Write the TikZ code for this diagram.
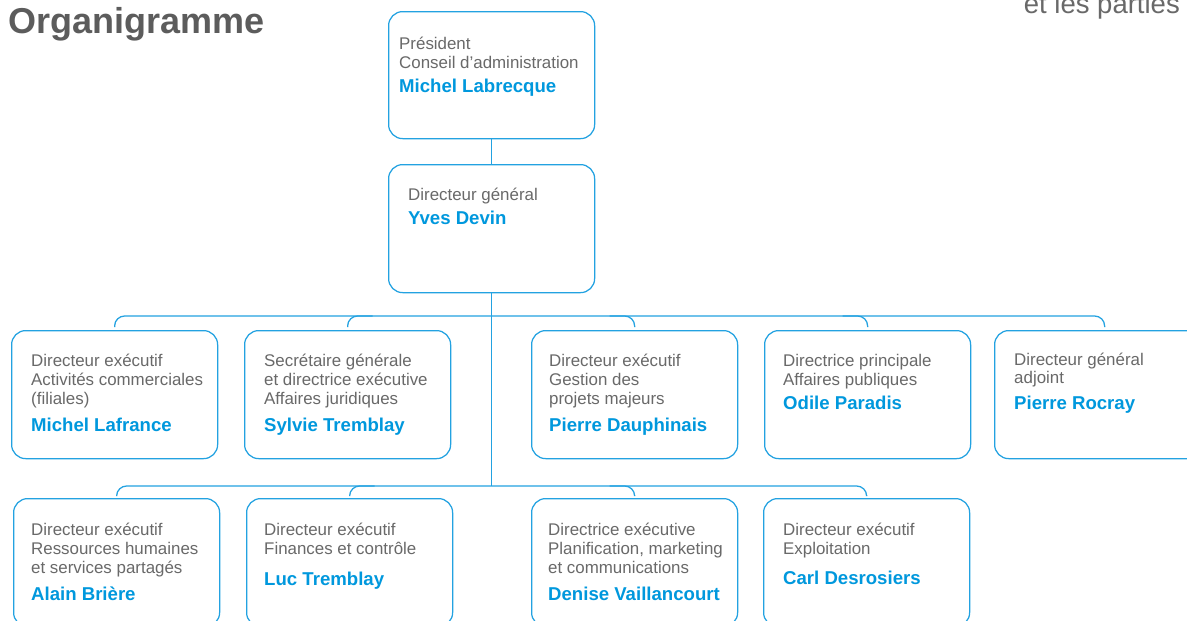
\documentclass[tikz,border=0pt]{standalone}
\usepackage{fontspec}
\setmainfont{Liberation Sans}
\usetikzlibrary{calc}
\definecolor{orgblue}{RGB}{35,162,225}
\definecolor{namblue}{RGB}{0,152,221}
\definecolor{txtgray}{RGB}{105,105,105}
\definecolor{titlegray}{RGB}{92,92,92}
\newcommand\orgtxt[5]{%
  \foreach \t/\yy [count=\i] in {#3} {\node[gtxt] (#1l\i) at (#2,\yy) {\t};}
  \node[ntxt] (#1n) at (#2,#4) {#5};
}
\begin{document}
\begin{tikzpicture}[x=1pt,y=-1pt,
  orgbox/.style={draw=orgblue, line width=1.25pt, rounded corners=14pt, anchor=north west,
    minimum width=#1, minimum height=128pt, inner sep=0pt},
  orgbox/.default=206pt,
  conn/.style={draw=orgblue, line width=1.25pt, rounded corners=10pt},
  gtxt/.style={anchor=base west, inner sep=0pt, text=txtgray, font=\fontsize{16.9}{19}\selectfont},
  ntxt/.style={anchor=base west, inner sep=0pt, text=namblue, font=\fontsize{18.6}{22}\selectfont\bfseries},
]
\useasboundingbox (0,0) rectangle (1187,621);
\fill[white] (0,0) rectangle (1187,621);

% title
\node[anchor=base west, inner sep=0pt, text=titlegray, font=\fontsize{36}{40}\selectfont\bfseries] (title) at (8,34) {Organigramme};
\node[anchor=base east, inner sep=0pt, text=txtgray, font=\fontsize{27.5}{30}\selectfont] (cut) at (1180,13) {et les parties};

% top boxes
\node[orgbox, minimum height=127pt] (pres) at (388,11) {};
\node[orgbox] (dg) at (388,164) {};
\orgtxt{p}{399}{Président/49, Conseil d’administration/68}{92}{Michel Labrecque}
\orgtxt{d}{408}{Directeur général/200}{224}{Yves Devin}

% row 1
\node[orgbox] (ra) at (11,330) {};
\node[orgbox] (rb) at (244,330) {};
\node[orgbox] (rc) at (531,330) {};
\node[orgbox] (rd) at (764,330) {};
\node[orgbox=220pt] (re) at (994,330) {};
\orgtxt{ra}{31}{Directeur exécutif/366, Activités commerciales/385, (filiales)/404}{431}{Michel Lafrance}
\orgtxt{rb}{264}{Secrétaire générale/366, et directrice exécutive/385, Affaires juridiques/404}{431}{Sylvie Tremblay}
\orgtxt{rc}{549}{Directeur exécutif/366, Gestion des/385, projets majeurs/404}{431}{Pierre Dauphinais}
\orgtxt{rd}{783}{Directrice principale/366, Affaires publiques/385}{409}{Odile Paradis}
\orgtxt{re}{1014}{Directeur général/365, adjoint/383}{409}{Pierre Rocray}

% row 2
\node[orgbox] (sa) at (13,498) {};
\node[orgbox] (sb) at (246,498) {};
\node[orgbox] (sc) at (531,498) {};
\node[orgbox] (sd) at (763,498) {};
\orgtxt{sa}{31}{Directeur exécutif/535, Ressources humaines/554, et services partagés/573}{600}{Alain Brière}
\orgtxt{sb}{264}{Directeur exécutif/535, Finances et contrôle/554}{585}{Luc Tremblay}
\orgtxt{sc}{548}{Directrice exécutive/535, {Planification, marketing}/554, et communications/573}{600}{Denise Vaillancourt}
\orgtxt{sd}{783}{Directeur exécutif/535, Exploitation/554}{584}{Carl Desrosiers}

% connectors
\coordinate (h1) at (dg.south |- 0,316);
\coordinate (h2) at (dg.south |- 0,486);
\draw[conn] (pres.south) -- (dg.north);
\draw[conn] (dg.south) -- (h2);
\draw[conn] ($(ra.north)+(0,-3)$) |- (h1) -| ($(re.north)+(0,-3)$);
\draw[conn] ($(rb.north)+(0,-3)$) |- ($(rb.north)+(25,-14)$);
\draw[conn] ($(rc.north)+(-25,-14)$) -| ($(rc.north)+(0,-3)$);
\draw[conn] ($(rd.north)+(-25,-14)$) -| ($(rd.north)+(0,-3)$);
\draw[conn] ($(sa.north)+(0,-3)$) |- (h2) -| ($(sd.north)+(0,-3)$);
\draw[conn] ($(sb.north)+(0,-3)$) |- ($(sb.north)+(25,-12)$);
\draw[conn] ($(sc.north)+(-25,-12)$) -| ($(sc.north)+(0,-3)$);
\end{tikzpicture}
\end{document}
